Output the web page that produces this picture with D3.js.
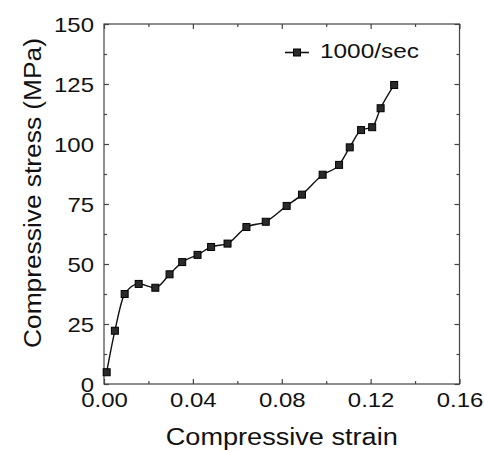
<!DOCTYPE html>
<meta charset="utf-8">
<head>
  <title>Compressive stress-strain</title>
  <script src="https://cdn.jsdelivr.net/npm/d3@7"></script>
  <style>
    body { margin: 0; background: #fff; }
    text { font-family: Arial, "Liberation Sans", sans-serif; fill: #111; }
    .frame { fill: none; stroke: #444; stroke-width: 1.2; }
    .axis path { display: none; }
    .axis line { stroke: #444; stroke-width: 1.2; }
  </style>
</head>
<body>
<div id="chart"></div>
<script>
// data
var strain = [0.0012, 0.0049, 0.0093, 0.0156, 0.0231, 0.0295, 0.0352, 0.0421, 0.0482, 0.0556,
              0.0641, 0.0728, 0.0822, 0.0891, 0.0984, 0.1058, 0.1106, 0.1157, 0.1207, 0.1245, 0.1306];
var stress = [4.9, 22.2, 37.5, 41.7, 40.1, 45.7, 50.8, 53.8, 57.1, 58.5,
              65.4, 67.6, 74.2, 78.9, 87.2, 91.3, 98.6, 105.8, 107.0, 114.9, 124.6];
var xTicks = [0, 0.04, 0.08, 0.12, 0.16];
var xMinor = [0.02, 0.06, 0.10, 0.14];
var yTicks = [0, 25, 50, 75, 100, 125, 150];
var yMinor = [12.5, 37.5, 62.5, 87.5, 112.5, 137.5];
var seriesName = "1000/sec";

var W = 484, H = 450;
var margin = {top: 24, right: 24.5, bottom: 66, left: 104};
var width = W - margin.left - margin.right,
    height = H - margin.top - margin.bottom;

var svg = d3.select("#chart").append("svg")
    .attr("width", W).attr("height", H);
var g = svg.append("g")
    .attr("transform", "translate(" + margin.left + "," + margin.top + ")");

var x = d3.scaleLinear().domain([0, 0.16]).range([0, width]);
var y = d3.scaleLinear().domain([0, 150]).range([height, 0]);

// stretch text a bit wider, like the original
function widen(sel, k) {
  sel.each(function() {
    var l = this.getComputedTextLength();
    d3.select(this).attr("textLength", l * k).attr("lengthAdjust", "spacingAndGlyphs");
  });
}

// major ticks (inward)
var xb = g.append("g").attr("class", "axis")
    .attr("transform", "translate(0," + height + ")")
    .call(d3.axisBottom(x).tickValues(xTicks).tickSize(-5).tickPadding(0)
      .tickFormat(d3.format(".2f")));
xb.selectAll("text").attr("y", 22.7).attr("dy", null)
    .style("font-size", "21px");
widen(xb.selectAll("text"), 1.14);

var yl = g.append("g").attr("class", "axis")
    .call(d3.axisLeft(y).tickValues(yTicks).tickSize(-5).tickPadding(0));
yl.selectAll("text").attr("x", -10).attr("dy", "0.37em")
    .style("font-size", "21px");
widen(yl.selectAll("text"), 1.14);

g.append("g").attr("class", "axis")
    .call(d3.axisTop(x).tickValues(xTicks).tickSize(-5).tickFormat(""));
g.append("g").attr("class", "axis")
    .attr("transform", "translate(" + width + ",0)")
    .call(d3.axisRight(y).tickValues(yTicks).tickSize(-5).tickFormat(""));

// minor ticks
g.append("g").attr("class", "axis").attr("transform", "translate(0," + height + ")")
    .call(d3.axisBottom(x).tickValues(xMinor).tickSize(-3).tickFormat(""));
g.append("g").attr("class", "axis")
    .call(d3.axisTop(x).tickValues(xMinor).tickSize(-3).tickFormat(""));
g.append("g").attr("class", "axis")
    .call(d3.axisLeft(y).tickValues(yMinor).tickSize(-3).tickFormat(""));
g.append("g").attr("class", "axis").attr("transform", "translate(" + width + ",0)")
    .call(d3.axisRight(y).tickValues(yMinor).tickSize(-3).tickFormat(""));

g.append("rect").attr("class", "frame")
    .attr("width", width).attr("height", height);

// series
var pts = strain.map(function(s, i) { return [s, stress[i]]; });
var line = d3.line()
    .x(function(d) { return x(d[0]); })
    .y(function(d) { return y(d[1]); })
    .curve(d3.curveMonotoneX);
g.append("path").datum(pts)
    .attr("fill", "none").attr("stroke", "#111").attr("stroke-width", 1.4)
    .attr("d", line);

var ms = 7;
g.selectAll(".pt").data(pts).enter().append("rect")
    .attr("class", "pt")
    .attr("x", function(d) { return x(d[0]) - ms / 2; })
    .attr("y", function(d) { return y(d[1]) - ms / 2; })
    .attr("width", ms).attr("height", ms)
    .attr("fill", "#2a2a2a").attr("stroke", "#000").attr("stroke-width", 1);

// legend
var lg = svg.append("g").attr("transform", "translate(285,52.5)");
lg.append("line").attr("x1", 0).attr("x2", 24).attr("y1", 0).attr("y2", 0)
    .attr("stroke", "#111").attr("stroke-width", 1.6);
lg.append("rect").attr("x", 12 - ms / 2).attr("y", -ms / 2)
    .attr("width", ms).attr("height", ms)
    .attr("fill", "#2a2a2a").attr("stroke", "#000");
var lt = lg.append("text").attr("x", 35).attr("y", 5.5)
    .style("font-size", "21px").text(seriesName);
widen(lt, 1.16);

// axis titles
svg.append("text")
    .attr("x", margin.left + width / 2).attr("y", 445)
    .attr("text-anchor", "middle")
    .style("font-size", "23px")
    .text("Compressive strain")
    .attr("textLength", 232).attr("lengthAdjust", "spacingAndGlyphs");

svg.append("text")
    .attr("transform", "translate(41,193) rotate(-90)")
    .attr("text-anchor", "middle")
    .style("font-size", "23px")
    .text("Compressive stress (MPa)")
    .attr("textLength", 310).attr("lengthAdjust", "spacingAndGlyphs");
</script>
</body>
